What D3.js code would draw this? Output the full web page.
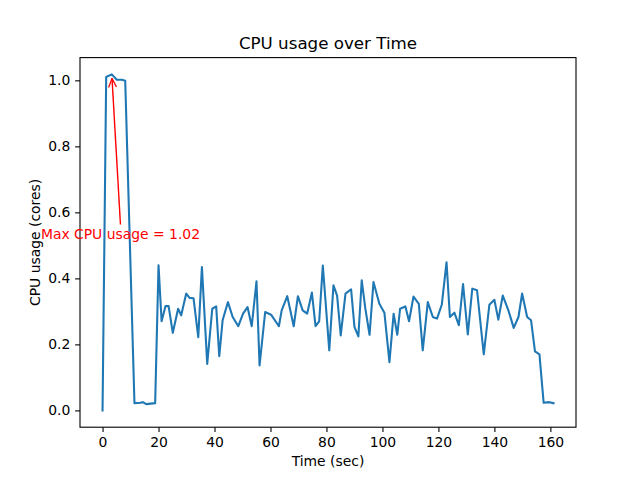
<!DOCTYPE html>
<html>
<head>
<meta charset="utf-8">
<script src="https://cdn.jsdelivr.net/npm/d3@7"></script>
<style>
  body { margin: 0; background: #fff; }
  text { font-family: "DejaVu Sans", sans-serif; }
</style>
</head>
<body>
<div id="chart"></div>
<script>
// sample times (sec) and CPU usage (cores)
var timeSec = [0, 1.3, 3.3, 5.1, 6.9, 8.1, 11.4, 13.5, 14.4, 15.6, 18.8,
  20, 21.1, 22.5, 23.6, 25.1, 27, 28.1, 29.9, 31.1, 32.5, 34.2, 35.5, 37.4, 39.2, 40.6,
  41.7, 42.9, 44.8, 46.5, 48.5, 50.2, 51.8, 53.3, 55, 56.1, 58.1, 60.2, 63, 64, 66,
  68.3, 69.8, 71.5, 73.1, 74.8, 76.1, 77.4, 78.7, 81, 82.5, 83.8, 85.1, 86.8, 88.8, 90,
  91.4, 92.6, 93.9, 95.4, 96.8, 98.9, 100.7, 102.5, 104, 105.3, 106.3, 108.2, 109.5, 111.1, 113,
  114.4, 116.2, 118, 119.5, 121.2, 122.9, 124.1, 125.7, 127.3, 128.8, 130.5, 132.1, 133.8, 136.2, 138.2,
  140, 141.4, 143, 145, 146.9, 148.6, 149.9, 151.7, 153.1, 154.5, 156.1, 157.6, 159.6, 161.1];
var cpuCores = [0, 1.01, 1.018, 1.002, 1.002, 0.999, 0.022, 0.023, 0.025, 0.019, 0.022,
  0.44, 0.27, 0.316, 0.316, 0.235, 0.308, 0.288, 0.354, 0.341, 0.34, 0.222, 0.434, 0.141, 0.308, 0.315,
  0.164, 0.273, 0.328, 0.283, 0.255, 0.293, 0.313, 0.255, 0.391, 0.136, 0.298, 0.29, 0.255, 0.303, 0.346,
  0.255, 0.346, 0.303, 0.293, 0.357, 0.255, 0.27, 0.439, 0.182, 0.379, 0.348, 0.227, 0.354, 0.367, 0.253,
  0.224, 0.394, 0.308, 0.229, 0.389, 0.323, 0.296, 0.146, 0.293, 0.229, 0.308, 0.315, 0.27, 0.345, 0.323,
  0.182, 0.328, 0.283, 0.278, 0.32, 0.449, 0.283, 0.296, 0.258, 0.383, 0.23, 0.369, 0.364, 0.17, 0.32,
  0.335, 0.275, 0.348, 0.303, 0.25, 0.283, 0.354, 0.283, 0.273, 0.179, 0.17, 0.023, 0.025, 0.022];
var xTicks = [0, 20, 40, 60, 80, 100, 120, 140, 160];
var yTicks = [0, 0.2, 0.4, 0.6, 0.8, 1.0];

var data = timeSec.map(function(t, i) { return {t: t, cpu: cpuCores[i]}; });

var svg = d3.select("#chart").append("svg")
  .attr("width", 640)
  .attr("height", 480);

var margin = {top: 57.6, right: 64, bottom: 52.8, left: 80};
var width = 640 - margin.left - margin.right;
var height = 480 - margin.top - margin.bottom;
var g = svg.append("g").attr("transform", "translate(" + margin.left + "," + margin.top + ")");

// matplotlib-like 5% padding around the data
function padded(ext) {
  var p = (ext[1] - ext[0]) * 0.05;
  return [ext[0] - p, ext[1] + p];
}

var x = d3.scaleLinear()
  .domain(padded(d3.extent(data, d => d.t)))
  .range([0, width]);

var y = d3.scaleLinear()
  .domain(padded(d3.extent(data, d => d.cpu)))
  .range([height, 0]);

var line = d3.line()
  .x(d => x(d.t))
  .y(d => y(d.cpu));

g.append("path")
  .datum(data)
  .attr("fill", "none")
  .attr("stroke", "#1f77b4")
  .attr("stroke-width", 2.08)
  .attr("stroke-linejoin", "round")
  .attr("stroke-linecap", "square")
  .attr("d", line);

// axes
var xAxis = d3.axisBottom(x).tickValues(xTicks).tickSize(4.86).tickPadding(4.86)
  .tickFormat(d3.format("d"));
var yAxis = d3.axisLeft(y).tickValues(yTicks).tickSize(4.86).tickPadding(4.86)
  .tickFormat(d3.format(".1f"));

var gx = g.append("g")
  .attr("transform", "translate(0," + height + ")")
  .call(xAxis);
var gy = g.append("g").call(yAxis);

[gx, gy].forEach(function(ax) {
  ax.select(".domain").remove();
  ax.selectAll("line").attr("stroke", "#000").attr("stroke-width", 1.1);
  ax.selectAll("text").attr("fill", "#000").style("font-size", "13.9px")
    .style("font-family", "DejaVu Sans");
});

// frame
g.append("rect")
  .attr("width", width)
  .attr("height", height)
  .attr("fill", "none")
  .attr("stroke", "#000")
  .attr("stroke-width", 1.1);

// title and labels
svg.append("text")
  .attr("x", margin.left + width / 2)
  .attr("y", 49)
  .attr("text-anchor", "middle")
  .style("font-size", "16.7px")
  .text("CPU usage over Time");

svg.append("text")
  .attr("x", margin.left + width / 2)
  .attr("y", 466)
  .attr("text-anchor", "middle")
  .style("font-size", "13.9px")
  .text("Time (sec)");

svg.append("text")
  .attr("transform", "translate(40," + (margin.top + height / 2) + ") rotate(-90)")
  .attr("text-anchor", "middle")
  .style("font-size", "13.9px")
  .text("CPU usage (cores)");

// annotation of the peak
var peak = data.reduce((a, b) => (b.cpu > a.cpu ? b : a));
var textPos = {t: peak.t + 3.1, cpu: peak.cpu - 0.5};

svg.append("defs").append("marker")
  .attr("id", "head")
  .attr("viewBox", "0 0 10 10")
  .attr("refX", 10)
  .attr("refY", 5)
  .attr("markerWidth", 7)
  .attr("markerHeight", 7)
  .attr("orient", "auto")
  .append("path")
  .attr("d", "M1,1 L10,5 L1,9")
  .attr("fill", "none")
  .attr("stroke", "red")
  .attr("stroke-width", 1.3);

var x0 = x(textPos.t), y0 = y(textPos.cpu) - 15;
var x1 = x(peak.t), y1 = y(peak.cpu);
var len = Math.hypot(x1 - x0, y1 - y0);
var shrink = 4;
g.append("line")
  .attr("x1", x0).attr("y1", y0)
  .attr("x2", x1 - (x1 - x0) / len * shrink)
  .attr("y2", y1 - (y1 - y0) / len * shrink)
  .attr("stroke", "red")
  .attr("stroke-width", 1.4)
  .attr("marker-end", "url(#head)");

g.append("text")
  .attr("x", x(textPos.t))
  .attr("y", y(textPos.cpu))
  .attr("text-anchor", "middle")
  .attr("fill", "red")
  .style("font-size", "13.9px")
  .text("Max CPU usage = " + peak.cpu.toFixed(2));
</script>
</body>
</html>
